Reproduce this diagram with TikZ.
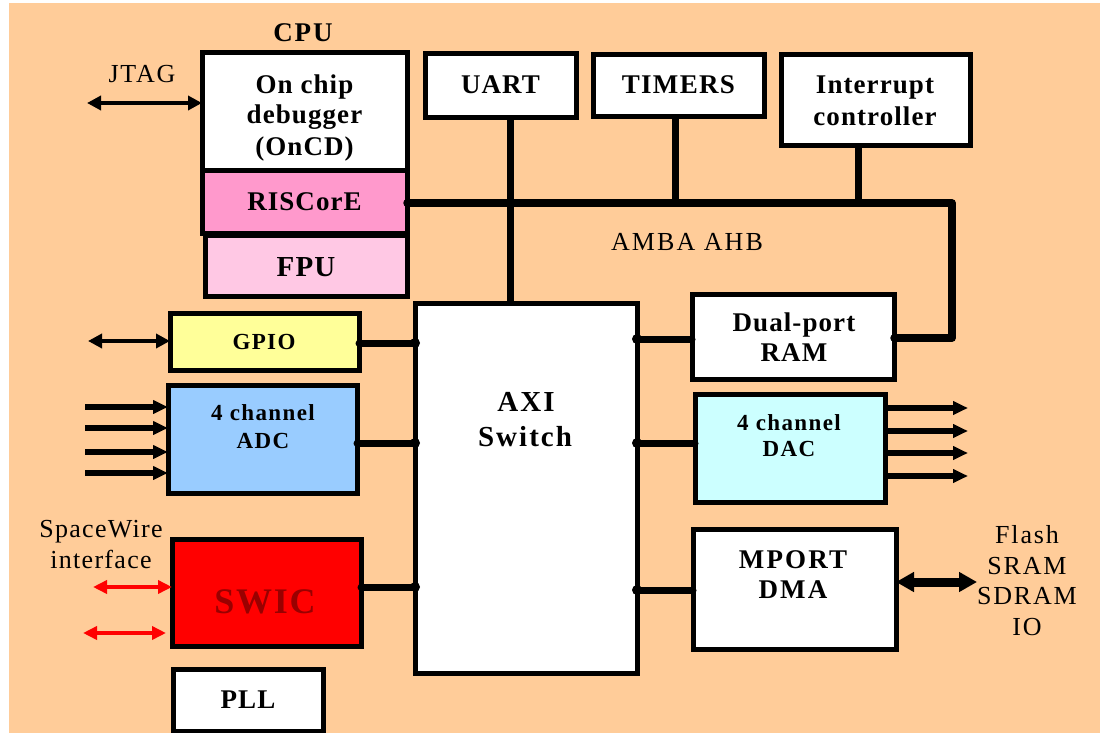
\documentclass[tikz,border=0pt]{standalone}
\usepackage{fontspec}
\setmainfont{Liberation Serif}
\usetikzlibrary{arrows.meta}
\definecolor{bgC}{HTML}{FFCC99}
\definecolor{riscC}{HTML}{FF99CC}
\definecolor{fpuC}{HTML}{FFC8E4}
\definecolor{gpioC}{HTML}{FFFF99}
\definecolor{adcC}{HTML}{99CCFF}
\definecolor{dacC}{HTML}{CCFFFF}
\definecolor{swicC}{HTML}{FF0000}
\definecolor{swicT}{HTML}{990000}
\newcommand\bfz[2]{\fontsize{#1}{#1}\selectfont\bfseries\addfontfeature{LetterSpace=#2}}
\newcommand\rmz[2]{\fontsize{#1}{#1}\selectfont\addfontfeature{LetterSpace=#2}}
\newcommand\bx[6]{\node[box,#2,minimum width={#5-#3},minimum height={#6-#4}] (#1) at (#3,#4) {};}
\begin{document}
\begin{tikzpicture}[x=1pt,y=-1pt,
  box/.style={draw=black,line width=5pt,fill=white,inner sep=0pt,outer sep=0pt,anchor=north west},
  txt/.style={anchor=base,inner sep=0pt,text=black},
  bus/.style={line width=7.5pt,line cap=round,line join=round},
  stem/.style={line width=7pt},
  conn/.style={line width=7pt,line cap=round},
  dot/.style={fill=black},
  thinarr/.style={line width=3.8pt,{Triangle[length=14pt,width=14pt]}-{Triangle[length=14pt,width=14pt]}},
  inarr/.style={line width=5.5pt,-{Triangle[length=15pt,width=13pt]}},
  redarr/.style={draw=swicC,line width=3.8pt,{Triangle[length=14pt,width=13pt]}-{Triangle[length=14pt,width=13pt]}},
  bigarr/.style={line width=9pt,{Triangle[length=18pt,width=19pt]}-{Triangle[length=18pt,width=19pt]}}
]
\useasboundingbox (0,0) rectangle (1100,733);
\fill[white] (0,0) rectangle (1100,733);
\fill[bgC] (9,3) rectangle (1100,733);

% boxes
\bx{oncd}{}{202}{53}{407}{170}
\bx{fpu}{fill=fpuC}{205}{235}{407}{296}
\bx{risc}{fill=riscC}{202}{170}{407}{233}
\bx{uart}{}{425}{54}{576}{118}
\bx{timers}{}{593}{55}{764}{117}
\bx{intc}{}{781}{55}{970}{146}
\bx{axi}{}{415}{303}{637}{673}
\bx{ram}{}{692}{294}{894}{379}
\bx{gpio}{fill=gpioC}{170}{313}{359}{370}
\bx{adc}{fill=adcC}{168}{385}{357}{493}
\bx{dac}{fill=dacC}{695}{394}{885}{502}
\bx{swic}{fill=swicC}{172}{539}{361}{646}
\bx{pll}{}{173}{669}{323}{731}
\bx{mport}{}{693}{529}{896}{649}

% AMBA bus and stems
\draw[bus] (risc.east |- 0,203) -- (952,203) -- (952,338) -- (ram.east |- 0,338);
\draw[stem] (uart.south -| 510,0) -- (axi.north -| 510,0);
\draw[stem] (timers.south -| 675.5,0) -- (675.5,203);
\draw[stem] (intc.south -| 858,0) -- (858,203);

% connectors to AXI
\draw[conn] (gpio.east |- 0,343) -- (axi.west |- 0,343);
\fill[dot] (axi.west |- 0,343) circle (5);
\draw[conn] (adc.east |- 0,443) -- (axi.west |- 0,443);
\fill[dot] (axi.west |- 0,443) circle (5);
\draw[conn] (swic.east |- 0,587) -- (axi.west |- 0,587);
\fill[dot] (axi.west |- 0,587) circle (5);
\draw[conn] (ram.west |- 0,339) -- (axi.east |- 0,339);
\fill[dot] (axi.east |- 0,339) circle (5);
\draw[conn] (dac.west |- 0,443) -- (axi.east |- 0,443);
\fill[dot] (axi.east |- 0,443) circle (5);
\draw[conn] (mport.west |- 0,590) -- (axi.east |- 0,590);
\fill[dot] (axi.east |- 0,590) circle (5);

% external arrows
\coordinate (jtagL) at (87,103);
\draw[thinarr] (jtagL) -- (jtagL -| oncd.west);
\coordinate (gpioL) at (88,341);
\draw[thinarr] (gpioL) -- (gpioL -| gpio.west);
\foreach \yy [count=\i] in {407,428,452,473}{
  \coordinate (adcIn\i) at (85,\yy);
  \draw[inarr] (adcIn\i) -- (adcIn\i -| adc.west);
}
\foreach \yy [count=\i] in {408,431,453,476}{
  \coordinate (dacOut\i) at (968,\yy);
  \draw[inarr] (dacOut\i -| dac.east) -- (dacOut\i);
}
\coordinate (swL1) at (93,587);
\draw[redarr] (swL1) -- (swL1 -| swic.west);
\coordinate (swL2) at (83,633);
\coordinate (swR2) at (166,633);
\draw[redarr] (swL2) -- (swR2);
\coordinate (memR) at (977,582);
\draw[bigarr] (memR -| mport.east) -- (memR);

% texts
\node[txt,font=\bfz{27}{7}] (tcpu) at (303,42) {CPU};
\node[txt,font=\rmz{26}{7}] (tjtag) at (142,83) {JTAG};
\node[txt,font=\bfz{27}{4}] (toncd1) at (304.5,94) {On chip};
\node[txt,font=\bfz{27}{4}] (toncd2) at (304.5,123.3) {debugger};
\node[txt,font=\bfz{27}{4}] (toncd3) at (304.5,155) {(OnCD)};
\node[txt,font=\bfz{27}{4}] (trisc) at (304.5,210) {RISCorE};
\node[txt,font=\bfz{29}{4}] (tfpu) at (306,276.7) {FPU};
\node[txt,font=\bfz{27}{4}] (tuart) at (500.5,93.3) {UART};
\node[txt,font=\bfz{27}{5}] (ttimers) at (678.4,94) {TIMERS};
\node[txt,font=\bfz{27}{4}] (tintc1) at (875,93.3) {Interrupt};
\node[txt,font=\bfz{27}{4}] (tintc2) at (875,125) {controller};
\node[txt,font=\rmz{26}{8}] (tamba) at (687,250.7) {AMBA AHB};
\node[txt,font=\bfz{29}{7}] (taxi1) at (526,411.7) {AXI};
\node[txt,font=\bfz{29}{7}] (taxi2) at (525,446.7) {Switch};
\node[txt,font=\bfz{27}{4}] (tram1) at (794,331.7) {Dual-port};
\node[txt,font=\bfz{27}{4}] (tram2) at (794,361.7) {RAM};
\node[txt,font=\bfz{23}{6}] (tgpio) at (264,349) {GPIO};
\node[txt,font=\bfz{23}{6}] (tadc1) at (263,420.7) {4 channel};
\node[txt,font=\bfz{23}{6}] (tadc2) at (263,448.3) {ADC};
\node[txt,font=\bfz{23}{6}] (tdac1) at (789,430) {4 channel};
\node[txt,font=\bfz{23}{6}] (tdac2) at (789,456.7) {DAC};
\node[txt,font=\rmz{26}{5}] (tsw1) at (101,537) {SpaceWire};
\node[txt,font=\rmz{26}{5}] (tsw2) at (101,568) {interface};
\node[txt,font=\bfz{36}{5},text=swicT] (tswic) at (265,613) {SWIC};
\node[txt,font=\bfz{27}{4}] (tpll) at (248,708.3) {PLL};
\node[txt,font=\bfz{27}{8}] (tmport1) at (793,568.3) {MPORT};
\node[txt,font=\bfz{27}{8}] (tmport2) at (793,598.3) {DMA};
\node[txt,font=\rmz{26}{7}] (tmem1) at (1027,543.3) {Flash};
\node[txt,font=\rmz{26}{7}] (tmem2) at (1027,574) {SRAM};
\node[txt,font=\rmz{26}{7}] (tmem3) at (1027,604.3) {SDRAM};
\node[txt,font=\rmz{26}{7}] (tmem4) at (1027,635) {IO};
\end{tikzpicture}
\end{document}
